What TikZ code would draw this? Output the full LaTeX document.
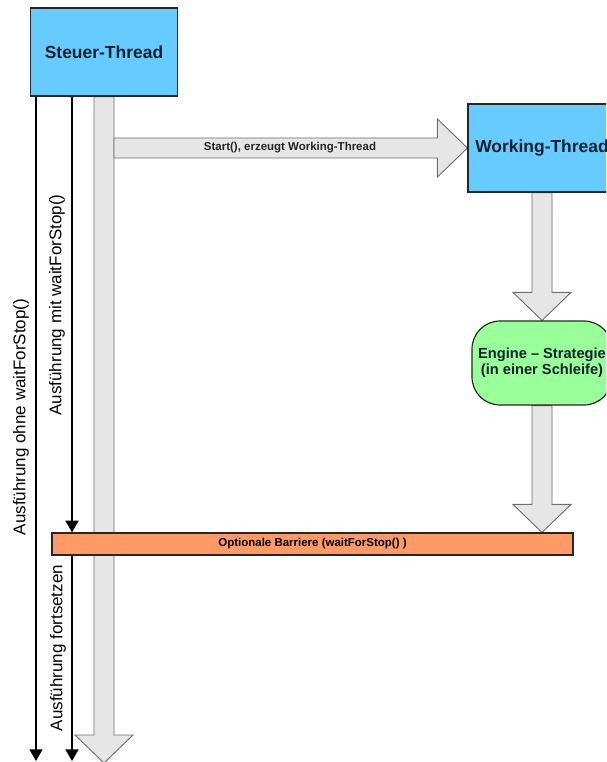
\documentclass[tikz,border=0pt]{standalone}
\usepackage{fontspec}
\setmainfont{Liberation Sans}
\usetikzlibrary{arrows.meta,calc,backgrounds}

\definecolor{threadblue}{RGB}{102,204,255}
\definecolor{enginegreen}{RGB}{153,255,153}
\definecolor{barrierorange}{RGB}{255,153,102}
\definecolor{arrowgrey}{RGB}{230,230,230}
\definecolor{arrowedge}{RGB}{110,110,110}
\definecolor{textnavy}{RGB}{16,32,48}

% broad grey arrows, from #1 to the tip #2
\newcommand{\blockdown}[2]{%
  \draw[blockarrow] ($(#1)+(-10,0)$) -- ($(#2)+(-10,-28)$) -- ($(#2)+(-29,-28)$) -- (#2)
    -- ($(#2)+(29,-28)$) -- ($(#2)+(10,-28)$) -- ($(#1)+(10,0)$) -- cycle;}
\newcommand{\blockright}[2]{%
  \draw[blockarrow] ($(#1)+(0,-10)$) -- ($(#2)+(-30,-10)$) -- ($(#2)+(-30,-29)$) -- (#2)
    -- ($(#2)+(-30,29)$) -- ($(#2)+(-30,10)$) -- ($(#1)+(0,10)$) -- cycle;}

\begin{document}
\begin{tikzpicture}[x=0.03cm, y=-0.03cm,
    threadbox/.style={draw=black!85, line width=1pt, fill=threadblue, text=textnavy,
      minimum width=4.44cm, minimum height=2.64cm, inner sep=0pt,
      font=\fontsize{14.9}{17}\selectfont\bfseries},
    enginebox/.style={draw=black!85, line width=1pt, fill=enginegreen, text=textnavy,
      rounded corners=0.84cm, minimum width=4.2cm, minimum height=2.52cm, inner sep=0pt,
      align=center, font=\fontsize{12.5}{13.7}\selectfont\bfseries},
    barrierbox/.style={draw=black!85, line width=1pt, fill=barrierorange,
      minimum width=15.63cm, minimum height=0.66cm, inner sep=0pt,
      font=\fontsize{9.8}{11}\selectfont\bfseries},
    blockarrow/.style={draw=arrowedge, fill=arrowgrey, line width=0.8pt},
    flow/.style={line width=1.7pt, -{Triangle[width=11pt,length=10pt]}},
    sidelabel/.style={rotate=90, font=\fontsize{14.5}{17}\selectfont},
    smalllabel/.style={font=\fontsize{9.8}{11}\selectfont\bfseries, text=black!85}]

  \useasboundingbox (0,0) rectangle (606,762);
  \clip (0,0) rectangle (606,762);

  % threads and barrier
  \node[threadbox, minimum width=4.41cm] (steuer) at (104,52) {Steuer-Thread};
  \node[threadbox] (working) at (542,148) {Working-Thread};
  \node[enginebox] (engine) at (542,363) {Engine – Strategie\\(in einer Schleife)};
  \node[barrierbox] (barrier) at (312.5,544) {Optionale Barriere (waitForStop() )};

  % grey flow arrows
  \begin{scope}[on background layer]
    \coordinate (maintip) at (104,763);
    \blockdown{steuer.south}{maintip}
    \path (steuer.south) ++(10,0) coordinate (shaftedge);
    \blockright{shaftedge |- working.west}{working.west}
    \blockdown{working.south}{engine.north}
    \blockdown{engine.south}{engine.south |- barrier.north}
  \end{scope}
  \node[smalllabel] (starttext) at (290,148) {Start(), erzeugt Working-Thread};

  % execution lines
  \coordinate (ohneend) at (36,761);
  \coordinate (mitend) at (72,761);
  \draw[flow] (ohneend |- steuer.south) -- (ohneend);
  \draw[flow] (mitend |- steuer.south) -- (mitend |- barrier.north);
  \draw[flow] (mitend |- barrier.south) -- (mitend);

  \node[sidelabel] (ohnetext) at (21,417) {Ausführung ohne waitForStop()};
  \node[sidelabel] (mittext) at (57,305) {Ausführung mit waitForStop()};
  \node[sidelabel] (weitertext) at (58,648) {Ausführung fortsetzen};
\end{tikzpicture}
\end{document}
